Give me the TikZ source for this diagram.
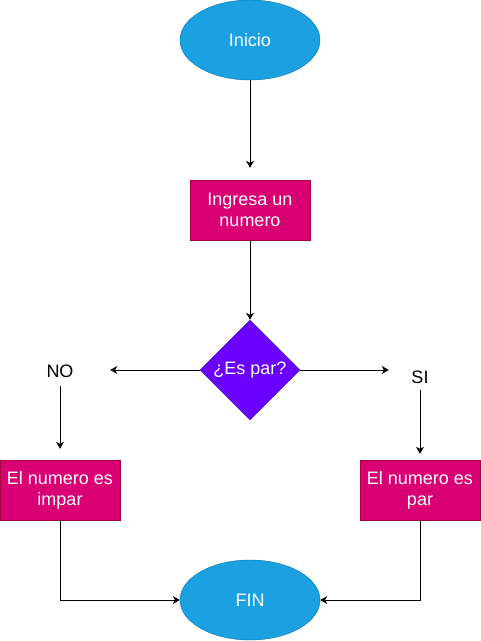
\documentclass[tikz,border=0pt]{standalone}
\usepackage{fontspec}
\setmainfont{Liberation Sans}
\usetikzlibrary{arrows.meta}
\usetikzlibrary{shapes.geometric}

\definecolor{termblue}{HTML}{1BA1E2}
\definecolor{termline}{HTML}{006EAF}
\definecolor{procpink}{HTML}{D80073}
\definecolor{procline}{HTML}{A50040}
\definecolor{askviolet}{HTML}{6A00FF}
\definecolor{askline}{HTML}{3700CC}

\tikzset{
  every node/.style={font=\fontsize{18}{21}\selectfont},
  term/.style={ellipse, fill=termblue, draw=termline, minimum width=140pt, minimum height=80pt, inner sep=0pt, text=white},
  proc/.style={rectangle, fill=procpink, draw=procline, minimum width=120pt, minimum height=60pt, inner sep=0pt, text=white, align=center},
  ask/.style={diamond, fill=askviolet, draw=askline, minimum width=100pt, minimum height=100pt, inner sep=0pt, text=white},
  tag/.style={minimum height=30pt, inner sep=0pt},
  flow/.style={line width=1pt, -{Stealth[length=7pt,width=8pt,inset=2pt]}}
}

\begin{document}
\begin{tikzpicture}[x=1pt, y=-1pt]
    \fill[white] (0,0) rectangle (481,641);
    \useasboundingbox (0,0) rectangle (481,641);
    \node[term] (inicio) at (250,40) {Inicio};
    \node[proc] (ingresa) at (250,210) {Ingresa un\\numero};
    \node[ask] (espar) at (250,370) {¿Es par?};
    \node[tag, minimum width=100pt] (no) at (60,371) {NO};
    \node[tag, minimum width=62pt, minimum height=26pt] (si) at (420,377) {SI};
    \node[proc] (impar) at (60,490) {El numero es\\impar};
    \node[proc] (par) at (420,490) {El numero es\\par};
    \node[term] (fin) at (250,600) {FIN};
    \draw[flow, shorten >=12pt] (inicio) -- (ingresa);
    \draw[flow] (ingresa) -- (espar);
    \draw[flow] (espar.west) -- (espar.west -| no.east);
    \draw[flow] (espar.east) -- (espar.east -| si.west);
    \draw[flow, shorten >=11pt] (no) -- (impar);
    \draw[flow, shorten >=6pt] (si) -- (par);
    \draw[flow] (impar.south) |- (fin.west);
    \draw[flow] (par.south) |- (fin.east);
  \end{tikzpicture}
\end{document}
